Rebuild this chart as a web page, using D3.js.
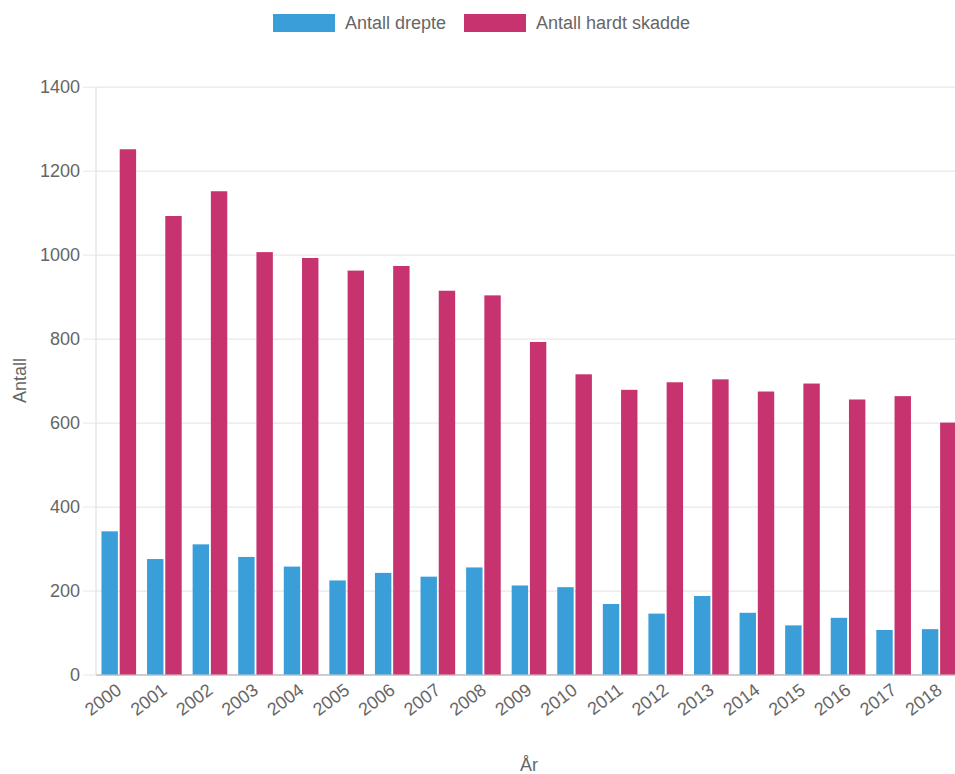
<!DOCTYPE html>
<html>
<head>
<meta charset="utf-8">
<script src="https://cdn.jsdelivr.net/npm/d3@7"></script>
<style>
  body { margin: 0; background: #fff; overflow: hidden; }
  svg { display: block; font-family: "Liberation Sans", Arial, sans-serif; }
  .tick text { fill: #666; }
</style>
</head>
<body>
<div id="chart"></div>
<script>
(function () {
  const years = ["2000", "2001", "2002", "2003", "2004", "2005", "2006", "2007", "2008", "2009",
    "2010", "2011", "2012", "2013", "2014", "2015", "2016", "2017", "2018"];
  const drepte = [341, 275, 310, 280, 257, 224, 242, 233, 255, 212, 208, 168, 145, 187, 147, 117, 135, 106, 108];
  const hardtSkadde = [1251, 1092, 1151, 1006, 992, 962, 973, 914, 903, 792, 715, 678, 696, 703, 674, 693, 655, 663, 600];
  const yTicks = [0, 200, 400, 600, 800, 1000, 1200, 1400];

  const seriesNames = ["Antall drepte", "Antall hardt skadde"];
  const colors = ["#3a9fd9", "#c7336f"];

  const width = 955, height = 774;
  const left = 96, right = 962, top = 86.7, bottom = 674.5;

  const svg = d3.select("#chart").append("svg")
    .attr("width", width)
    .attr("height", height);

  const x0 = d3.scaleBand().domain(years).range([left, right]).paddingInner(0).paddingOuter(0);
  const catWidth = x0.bandwidth();
  // 80% of the category for the group, 90% of each slot for the bar
  const x1 = d3.scaleBand().domain([0, 1])
    .range([catWidth * 0.1, catWidth * 0.9])
    .paddingInner(0.1).paddingOuter(0.05);
  const y = d3.scaleLinear().domain([0, 1400]).range([bottom, top]);

  // horizontal grid + y ticks
  const yAxis = svg.append("g")
    .attr("transform", "translate(" + left + ",0)")
    .call(d3.axisLeft(y).tickValues(yTicks).tickFormat(d3.format("d")).tickSize(13).tickPadding(3));
  yAxis.select(".domain").remove();
  yAxis.selectAll(".tick line").attr("stroke", "#e6e6e6");
  yAxis.selectAll(".tick text").attr("font-size", 18);
  yAxis.selectAll(".tick").append("line")
    .attr("x1", 0).attr("x2", right - left)
    .attr("stroke", (d) => d === 0 ? "#bdbdbd" : "#e8e8e8")
    .attr("stroke-width", (d) => d === 0 ? 1.5 : 1.2);

  svg.append("line")
    .attr("x1", left).attr("x2", left)
    .attr("y1", top).attr("y2", bottom)
    .attr("stroke", "#e6e6e6").attr("stroke-width", 1.5);

  // bars
  const rows = years.map((yr, i) => ({ year: yr, values: [drepte[i], hardtSkadde[i]] }));
  const groups = svg.append("g").selectAll("g")
    .data(rows).join("g")
    .attr("transform", (d) => "translate(" + x0(d.year) + ",0)");
  groups.selectAll("rect")
    .data((d) => d.values.map((v, k) => ({ k: k, v: v })))
    .join("rect")
    .attr("x", (d) => x1(d.k))
    .attr("width", x1.bandwidth())
    .attr("y", (d) => y(d.v))
    .attr("height", (d) => y(0) - y(d.v))
    .attr("fill", (d) => colors[d.k]);

  // x axis labels
  const xAxis = svg.append("g")
    .attr("transform", "translate(0," + bottom + ")")
    .call(d3.axisBottom(x0).tickSize(0).tickPadding(0));
  xAxis.select(".domain").remove();
  xAxis.selectAll(".tick text")
    .attr("font-size", 18)
    .attr("text-anchor", "end")
    .attr("dy", 0)
    .attr("transform", "translate(4,18) rotate(-37)");

  // axis titles
  svg.append("text")
    .attr("transform", "translate(26," + ((top + bottom) / 2) + ") rotate(-90)")
    .attr("text-anchor", "middle")
    .attr("font-size", 18)
    .attr("fill", "#666")
    .text("Antall");

  svg.append("text")
    .attr("x", (left + right) / 2)
    .attr("y", 771)
    .attr("text-anchor", "middle")
    .attr("font-size", 18)
    .attr("fill", "#666")
    .text("År");

  // legend
  const legendX = [273, 464];
  const legend = svg.append("g").selectAll("g")
    .data(seriesNames).join("g")
    .attr("transform", (d, i) => "translate(" + legendX[i] + ",14)");
  legend.append("rect")
    .attr("width", 62).attr("height", 18)
    .attr("fill", (d, i) => colors[i]);
  legend.append("text")
    .attr("x", 72).attr("y", 15)
    .attr("font-size", 18)
    .attr("fill", "#666")
    .text((d) => d);
})();
</script>
</body>
</html>
